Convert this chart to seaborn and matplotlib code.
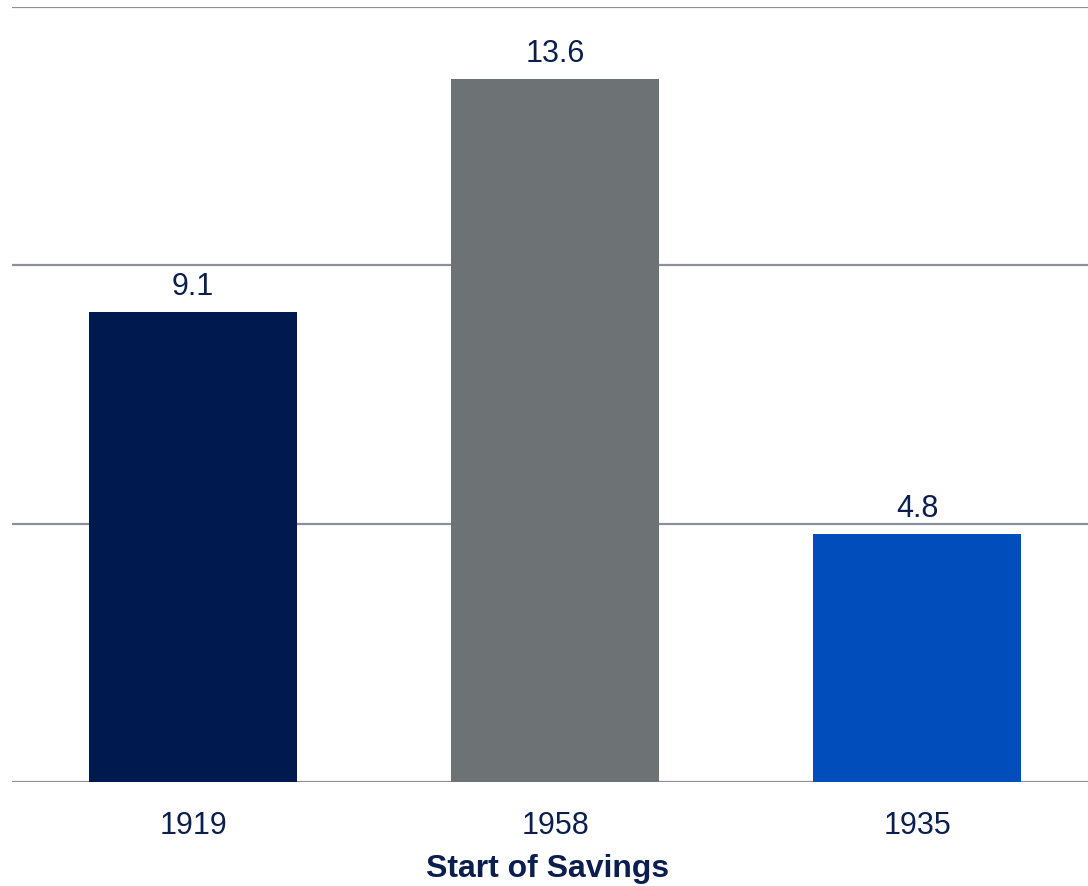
import matplotlib
matplotlib.use("Agg")
import matplotlib.pyplot as plt
import seaborn as sns
import pandas as pd

# Chart data
categories = ["1919", "1958", "1935"]
values = [9.1, 13.6, 4.8]
bar_colors = ["#001A4F", "#6D7275", "#004DBB"]
y_ticks = [0, 5, 10, 15]
x_title = "Start of Savings"

text_color = "#0B1F4F"
grid_color = "#8E8F9E"

sns.set_theme(style="white")
plt.rcParams["font.family"] = ["Liberation Sans", "DejaVu Sans"]

df = pd.DataFrame({"start": categories, "value": values})

fig = plt.figure(figsize=(10.88, 8.87), dpi=100)
ax = fig.add_axes([12 / 1088, 104 / 887, 1086 / 1088, 775 / 887])

sns.barplot(data=df, x="start", y="value", hue="start", order=categories,
            hue_order=categories, palette=bar_colors, width=0.575,
            saturation=1, legend=False, linewidth=0, edgecolor="none", ax=ax)

ax.set_ylim(0, 15)
ax.set_xlim(-0.5, 2.5)
ax.set_yticks(y_ticks)
ax.set_yticklabels([])
ax.tick_params(axis="y", length=0)
ax.yaxis.grid(True, color=grid_color, linewidth=1.6)
ax.set_axisbelow(True)
for s in ax.spines.values():
    s.set_visible(False)

ax.tick_params(axis="x", length=0, pad=20, labelsize=22, labelcolor=text_color)
ax.set_xlabel(x_title, fontsize=23, fontweight="bold", color=text_color)
ax.xaxis.set_label_coords(0.493, -0.092)
ax.set_ylabel("")

for cont in ax.containers:
    ax.bar_label(cont, fmt="%.1f", padding=8, fontsize=22, color=text_color)

fig.savefig("out.png", dpi=100)
